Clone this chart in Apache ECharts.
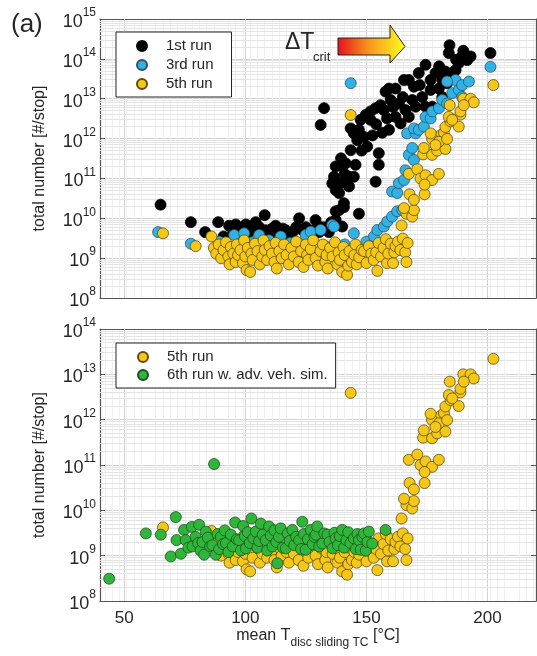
<!DOCTYPE html>
<html lang="en">
<head>
    <meta charset="UTF-8">
    <title>total number vs mean disc temperature</title>
    <script src="https://cdn.jsdelivr.net/npm/echarts@6/dist/echarts.min.js"></script>
    <style>
        body { margin: 0; background: #fff; }
        #chart { width: 537px; height: 656px; }
    </style>
</head>
<body>
    <div id="chart"></div>
    <script>
        // tick positions on the temperature axis
        const xTicks = [50, 100, 150, 200];

        // [mean T disc, total number per stop]
        const firstRun = [
            [65, 2.2e10], [77.5, 8e9], [83.4, 4.5e9], [88.8, 8e9], [91, 3.5e9], [93.3, 6.5e9], [95, 4.5e9],
            [96, 7e9], [97.4, 5e9], [98.5, 3.8e9], [100.2, 7e9], [101.5, 4.5e9], [102.5, 5.5e9], [104.3, 8e9],
            [105.7, 6e9], [106.5, 4e9], [108, 1.2e10], [108.4, 5e9], [110, 3.8e9], [111, 5.5e9], [112.5, 6.5e9],
            [113.2, 5e9], [114.5, 4e9], [115.5, 5.5e9], [116.7, 5e9], [118, 3.5e9], [119.5, 4.5e9], [121, 6e9],
            [122.2, 1.0e10], [123.5, 5.1e9], [125, 6e9], [126.5, 4e9], [128, 5e9], [129, 9e9], [130.5, 4.5e9],
            [131.5, 6e9], [133.2, 6e9], [134.5, 4.5e9], [135.5, 8e9], [108, 1.0e9], [118, 1.2e9], [95, 1.5e9],
            [135.9, 7.5e10], [136.6, 1.1e11], [137.3, 2e11], [137.3, 5.1e10], [137.3, 1.5e10], [137.3, 9e9],
            [138.7, 4.3e10], [138.7, 1.6e10], [139.3, 7.6e10], [140, 2e11], [140, 6.2e9], [140.7, 2.4e10],
            [140.7, 1.9e10], [141.4, 2.4e11], [142.8, 1.1e11], [142.8, 6.3e10], [143.5, 5.1e11], [143.5, 1.8e12],
            [144.8, 1.1e11], [144.8, 1.35e12], [146.2, 9.1e11], [146.9, 1.66e12], [146.9, 1.3e10], [147.6, 2.95e12],
            [149, 1.1e12], [149.7, 3.9e12], [150.3, 6.3e11], [151.7, 2.95e12], [151.7, 4.8e12], [153.8, 5.8e12],
            [153.8, 8.3e10], [155.1, 4.3e11], [155.1, 2.2e11], [155.8, 6.9e12], [157.2, 5.2e12], [157.9, 1.5e13],
            [159.3, 1.8e13], [159.3, 1.66e12], [160, 9.3e12], [162, 1.8e13], [162, 3.5e12], [163.4, 7.6e12],
            [164.1, 2.4e12], [165.5, 2.95e13], [166.1, 5.2e12], [167.5, 2.95e13], [167.5, 3.5e12], [168.9, 9.3e12],
            [169.6, 2e13], [170.3, 6.3e12], [171.6, 4.4e13], [173, 1.1e13], [174.4, 7.1e13], [174.4, 6.3e12],
            [176.5, 2.95e13], [176.5, 1.66e13], [177.2, 6.3e12], [178.5, 4.4e13], [179.9, 1.8e13], [181.3, 2.95e13],
            [181.3, 1.1e13], [182.6, 4.8e13], [183.3, 2.45e13], [184.3, 2.2e14], [185.4, 4.4e13], [186.8, 5.2e13],
            [188.1, 7.8e13], [189.5, 1.17e14], [191.6, 9.3e13], [193, 1.15e14], [201.2, 1.4e14], [132.5, 5.8e12],
            [131.1, 2.2e12], [139.5, 3.2e11], [141, 1.3e11], [145.5, 2.2e11], [148, 5e11], [152.5, 1.2e12],
            [154, 2.3e12], [156.5, 1.4e12], [158.5, 3.2e12], [161, 6.2e12], [165, 1.1e13], [172, 2.2e13],
            [180, 6.5e13], [187, 9.5e13], [184, 1.4e14], [190, 1.6e14]
        ];

        const thirdRun = [
            [64, 4.5e9], [77.5, 2.3e9], [89.2, 2.6e9], [92.6, 1.3e9], [95.4, 3.8e9], [97, 1.8e9], [99.5, 4.2e9],
            [101.5, 1.1e9], [103, 2.5e9], [105.7, 3.8e9], [107.7, 9e8], [109.8, 2.8e9], [111.5, 1.6e9], [114.6, 3.5e9],
            [116, 1.0e9], [118.5, 2.4e9], [121, 1.5e9], [124.9, 3.8e9], [127, 4.6e9], [128.5, 1.2e9], [131.1, 5.1e9],
            [133, 2e9], [135.9, 6.8e9], [136.6, 6.2e9], [138, 1.5e9], [141, 2.2e9], [144.8, 4.2e9], [147, 1.3e9],
            [150, 2.6e9], [153.1, 3.5e9], [154.5, 5.1e9], [157.2, 6.2e9], [158.6, 8.3e9], [160.6, 1.1e10],
            [162.7, 1.5e10], [164.8, 1.6e10], [160.6, 4.7e10], [162.7, 4.3e10], [163.4, 7.6e10], [165.5, 9.1e10],
            [166.1, 1.6e11], [167.5, 3.9e11], [169.6, 2.9e11], [168.9, 5.8e11], [166.8, 1.35e12], [170.3, 1.35e12],
            [169.6, 1.8e12], [171.6, 1.66e12], [173.7, 2e12], [174.4, 3.5e12], [176.5, 3.2e12], [177.2, 4.8e12],
            [179.9, 5.8e12], [181.3, 9.3e12], [183.3, 7.6e12], [185.4, 1.38e13], [188.1, 1.66e13], [189.5, 1.1e13],
            [186.8, 2.95e13], [183.3, 2.7e13], [189.5, 2.2e13], [192.3, 2.7e13], [201.2, 6.3e13], [143.5, 2.45e13]
        ];

        const fifthRun = [
            [66, 4.2e9], [79.5, 2.0e9], [86, 3.5e9], [87, 1.8e9], [88, 1.3e9], [89, 2.2e9], [90, 1.0e9], [91, 1.6e9],
            [92, 2.5e9], [93, 1.1e9], [93.5, 7e8], [94, 1.9e9], [95, 1.3e9], [96, 8e8], [96.5, 2.2e9], [97, 1.2e9],
            [98, 1.6e9], [99, 7.5e8], [99.5, 2.8e9], [100, 1.1e9], [100.5, 5e8], [101, 1.8e9], [102, 4.5e8],
            [102.5, 1.3e9], [103, 9e8], [104, 2.3e9], [105, 1.5e9], [106, 7e8], [107, 1.1e9], [107.5, 2.8e9],
            [108, 1.6e9], [109, 9e8], [110, 2e9], [111, 1.3e9], [112, 8e8], [112.5, 2.4e9], [113, 5.5e8],
            [114, 1.5e9], [115, 1.0e9], [116, 2.2e9], [117, 1.2e9], [118, 7e8], [119, 1.8e9], [120, 1.1e9],
            [121, 2.6e9], [122, 8e8], [123, 1.5e9], [124, 6e8], [125, 2.2e9], [125.5, 1.2e9], [126, 9e8],
            [127, 1.7e9], [128, 2.8e9], [129, 1.0e9], [130, 6.5e8], [131, 1.5e9], [132, 2.2e9], [133, 8e8],
            [133.5, 1.2e9], [134, 5.5e8], [135, 1.8e9], [136, 1.1e9], [137, 2.5e9], [138, 7e8], [138.5, 1.4e9],
            [139, 9e8], [140, 4.5e8], [140.5, 1.9e9], [141, 1.2e9], [142, 3.8e8], [142.5, 6.5e8], [143, 1.5e9],
            [143.5, 3.9e12], [144, 8e8], [145, 1.2e9], [145.5, 2.2e9], [146, 7e8], [147, 1.05e9], [148, 1.6e9],
            [149, 1.5e9], [150, 7.5e8], [151, 2.0e9], [152, 1.3e9], [153, 9e8], [154, 1.4e9], [154.5, 4.8e8],
            [155, 2.4e9], [156, 1.1e9], [157, 1.8e9], [158, 3e9], [158.5, 7.5e8], [159, 1.3e9], [160, 2.3e9],
            [161, 7.5e8], [161.5, 1.4e9], [162, 2e9], [163, 2.6e9], [164, 1.6e9], [165, 3.1e9], [166, 1.4e9],
            [166.5, 8e8], [167, 2.4e9], [164.5, 6.6e9], [166.5, 1.3e10], [168.9, 1.1e10], [169.6, 1.6e10],
            [165.5, 1.8e10], [167.8, 4e10], [174, 4e10], [169.6, 2.9e10], [167.5, 1.3e11], [171, 1.7e11],
            [172.3, 1e11], [174.4, 1.2e11], [177.1, 9.1e10], [179.9, 1.3e11], [174, 7e10], [173.4, 4e11],
            [177.1, 3.9e11], [179.2, 5e11], [182.6, 5.5e11], [180.6, 1.2e12], [182, 1.4e12], [177.1, 9.8e11],
            [179.9, 8.3e11], [183.3, 9.8e11], [182.6, 1.95e12], [184.7, 2.7e12], [184, 3.5e12], [188.8, 4e12],
            [188.1, 2e12], [184.4, 6.9e12], [191.6, 9.1e12], [190, 1e13], [193, 1e13], [194.3, 8.1e12],
            [202.4, 2.2e13], [176.5, 1.35e12], [173.7, 5.8e11], [178.5, 6.9e11], [185.4, 2.95e12], [188.8, 4.8e12],
            [190.2, 6.9e12]
        ];

        const sixthRun = [
            [43.8, 3.1e8], [58.9, 3.1e9], [65.1, 2.9e9], [69.2, 9.6e8], [71.3, 7.1e9], [71.6, 2.2e9], [73.4, 1.1e9],
            [74.7, 3.7e9], [75.4, 2.2e9], [76.5, 1.5e9], [77.9, 4.3e9], [78.2, 1.6e9], [79.5, 2.6e9], [80.5, 1.9e9],
            [80.9, 4.8e9], [81.5, 1.3e9], [82.3, 2.0e9], [83, 1.05e9], [83.7, 3.4e9], [84.5, 2.5e9], [85.5, 1.6e9],
            [86.4, 1.7e9], [87.1, 1.05e11], [87.8, 1.05e9], [88.5, 3.0e9], [89.2, 1.4e9], [89.9, 2.6e9], [90.8, 1.8e9],
            [91.5, 3.6e9], [92, 1.9e9], [93, 1.2e9], [94, 2.9e9], [94.8, 1.6e9], [95.8, 5.4e9], [96.5, 2.3e9],
            [97.4, 2.2e9], [98.2, 1.3e9], [99.1, 4.5e9], [99.8, 2.7e9], [100.2, 1.45e9], [101, 3.3e9], [101.8, 1.9e9],
            [102.5, 6.6e9], [103.3, 2.4e9], [104.3, 3.4e9], [105, 1.5e9], [105.7, 2.1e9], [106.4, 5.1e9],
            [107.2, 2.9e9], [108.4, 2.2e9], [109, 1.3e9], [109.8, 4.4e9], [110.5, 2.8e9], [111.2, 1.6e9], [112, 3.6e9],
            [112.8, 2.0e9], [113.2, 6.8e8], [113.9, 2.6e9], [114.6, 4.0e9], [115.5, 1.5e9], [116.7, 1.45e9],
            [117.5, 3.1e9], [118.3, 2.1e9], [119.4, 3.7e9], [120.2, 1.7e9], [121, 2.6e9], [122.2, 2.2e9], [123, 1.4e9],
            [123.5, 5.6e9], [124.2, 3.0e9], [124.9, 1.35e9], [125.8, 2.3e9], [127, 3.7e9], [127.8, 1.8e9],
            [128.5, 2.6e9], [129.1, 2.9e9], [129.7, 4.4e9], [130.5, 1.6e9], [131.8, 1.85e9], [132.6, 3.1e9],
            [133.9, 2.9e9], [134.7, 2.0e9], [136, 1.45e9], [136.8, 3.2e9], [137.3, 2.4e9], [138.2, 1.7e9], [139, 2.7e9],
            [140, 3.7e9], [140.8, 1.5e9], [141.7, 2.2e9], [142.5, 3.3e9], [143.4, 1.9e9], [144.8, 2.4e9],
            [145.6, 1.4e9], [146.3, 3.0e9], [146.9, 2.2e9], [147.6, 1.35e9], [148.3, 2.6e9], [149, 3.1e9],
            [149.7, 1.3e9], [150.4, 2.0e9], [151, 3.4e9], [152.4, 1.85e9], [157.9, 3.7e9]
        ];

        const font = 'Liberation Sans, Arial, Helvetica, sans-serif';
        const ink = '#262626';
        const boxColor = '#555';

        // grid lines that matlab draws: decades get a solid line, 2..9 get a faint one
        function gridLines(loExp, hiExp) {
            const lines = xTicks.map(v => ({ xAxis: v, lineStyle: { color: '#d2d2d2', width: 1, type: 'solid' } }));
            for (let e = loExp; e < hiExp; e++) {
                for (let k = 2; k <= 9; k++) {
                    lines.push({ yAxis: k * Math.pow(10, e), lineStyle: { color: '#e4e4e4', width: 1, type: 'solid' } });
                }
            }
            return lines;
        }

        function powLabel(v) {
            return '{b|10}{s|' + Math.round(Math.log10(v)) + '}';
        }

        const powRich = {
            b: { fontSize: 18, fontFamily: font, color: ink, lineHeight: 24, verticalAlign: 'bottom' },
            s: { fontSize: 12, fontFamily: font, color: ink, lineHeight: 10, verticalAlign: 'top' }
        };

        function xAxisCfg(gridIndex, pos, showLabel) {
            return {
                type: 'value', gridIndex: gridIndex, position: pos, min: 40, max: 220,
                axisLine: { show: true, onZero: false, lineStyle: { color: boxColor, width: 1.2 } },
                axisTick: { show: true, inside: true, length: 5, customValues: xTicks, lineStyle: { color: boxColor } },
                axisLabel: { show: showLabel, customValues: xTicks, fontSize: 17, fontFamily: font, color: ink, margin: 9 },
                splitLine: { show: false },
                minorTick: { show: false, splitNumber: 10 },
                minorSplitLine: { show: true, lineStyle: { color: '#f1f1f1', width: 1 } }
            };
        }

        function yAxisCfg(gridIndex, pos, hi, showLabel) {
            return {
                type: 'log', logBase: 10, gridIndex: gridIndex, position: pos, min: 1e8, max: hi,
                splitNumber: Math.round(Math.log10(hi)) - 8,
                name: showLabel ? 'total number [#/stop]' : '',
                nameLocation: 'middle', nameGap: 52,
                nameTextStyle: { fontSize: 16, fontFamily: font, color: ink },
                axisLine: { show: true, lineStyle: { color: boxColor, width: 1.2 } },
                axisTick: { show: true, inside: true, length: 5, lineStyle: { color: boxColor } },
                axisLabel: { show: showLabel, formatter: powLabel, rich: powRich, margin: 4 },
                splitLine: { show: showLabel, lineStyle: { color: '#d2d2d2', width: 1 } }
            };
        }

        function dots(name, data, xi, yi, fill, edge) {
            return {
                name: name, type: 'scatter', data: data, xAxisIndex: xi, yAxisIndex: yi, z: 3,
                symbol: 'circle', symbolSize: 11,
                itemStyle: { color: fill, borderColor: edge, borderWidth: 0.8, opacity: 1 }
            };
        }

        function guideSeries(xi, yi, hiExp) {
            return {
                type: 'scatter', data: [], xAxisIndex: xi, yAxisIndex: yi, z: 1, silent: true,
                markLine: {
                    z: 1, silent: true, symbol: 'none', animation: false, label: { show: false },
                    data: gridLines(8, hiExp)
                }
            };
        }

        const legendBase = {
            orient: 'vertical', backgroundColor: '#fff', borderColor: '#222', borderWidth: 1, z: 6,
            itemWidth: 10, itemHeight: 10, icon: 'circle',
            textStyle: { fontSize: 15, fontFamily: font, color: ink, lineHeight: 18, padding: [0, 0, 0, 14] }
        };

        const chart = echarts.init(document.getElementById('chart'), null, { renderer: 'canvas' });
        chart.setOption({
            animation: false,
            backgroundColor: '#fff',
            grid: [
                { left: 100, top: 19, right: 1, height: 279, show: true, backgroundColor: '#fff', borderWidth: 0 },
                { left: 100, top: 329, right: 1, height: 272, show: true, backgroundColor: '#fff', borderWidth: 0 }
            ],
            xAxis: [
                xAxisCfg(0, 'bottom', false),
                xAxisCfg(0, 'top', false),
                Object.assign(xAxisCfg(1, 'bottom', true), {
                    name: '{a|mean T}{b|disc sliding TC}{c| [°C]}',
                    nameLocation: 'middle', nameGap: 24,
                    nameTextStyle: {
                        rich: {
                            a: { fontSize: 16, fontFamily: font, color: ink, lineHeight: 16, verticalAlign: 'top' },
                            b: { fontSize: 12, fontFamily: font, color: ink, lineHeight: 30, verticalAlign: 'middle' },
                            c: { fontSize: 16, fontFamily: font, color: ink, lineHeight: 12, verticalAlign: 'top' }
                        }
                    }
                }),
                xAxisCfg(1, 'top', false)
            ],
            yAxis: [
                yAxisCfg(0, 'left', 1e15, true),
                yAxisCfg(0, 'right', 1e15, false),
                yAxisCfg(1, 'left', 1e14, true),
                yAxisCfg(1, 'right', 1e14, false)
            ],
            legend: [
                Object.assign({}, legendBase, {
                    left: 116, top: 32, itemGap: 1, padding: [5, 18, 4, 20],
                    data: ['1st run', '3rd run', '5th run']
                }),
                Object.assign({}, legendBase, {
                    left: 116, top: 343, itemGap: 0, padding: [5, 8, 4, 21],
                    data: ['5th run', '6th run w. adv. veh. sim.']
                })
            ],
            graphic: [
                { type: 'text', z: 10, left: 11, top: 12, style: { text: '(a)', fontSize: 26, fontFamily: font, fill: ink } },
                { type: 'text', z: 10, left: 285, top: 31, style: { text: 'ΔT', fontSize: 23, fontFamily: font, fill: ink } },
                { type: 'text', z: 10, left: 313, top: 51, style: { text: 'crit', fontSize: 13, fontFamily: font, fill: ink } },
                {
                    type: 'polygon', z: 10,
                    shape: { points: [[338, 38], [390, 38], [390, 25], [405, 46.5], [390, 63], [390, 55], [338, 55]] },
                    style: {
                        stroke: '#222', lineWidth: 1,
                        fill: new echarts.graphic.LinearGradient(0, 0, 1, 0, [
                            { offset: 0, color: '#e5101b' },
                            { offset: 0.45, color: '#f7931e' },
                            { offset: 1, color: '#ffff1e' }
                        ])
                    }
                }
            ],
            series: [
                guideSeries(0, 0, 15),
                dots('1st run', firstRun, 0, 0, '#000000', '#000000'),
                dots('3rd run', thirdRun, 0, 0, '#2fb2e6', '#35505e'),
                dots('5th run', fifthRun, 0, 0, '#f4c718', '#5f4d0a'),
                guideSeries(2, 2, 14),
                dots('5th run', fifthRun, 2, 2, '#f4c718', '#5f4d0a'),
                dots('6th run w. adv. veh. sim.', sixthRun, 2, 2, '#2fb63a', '#1f4f1f')
            ]
        });
    </script>
</body>
</html>
